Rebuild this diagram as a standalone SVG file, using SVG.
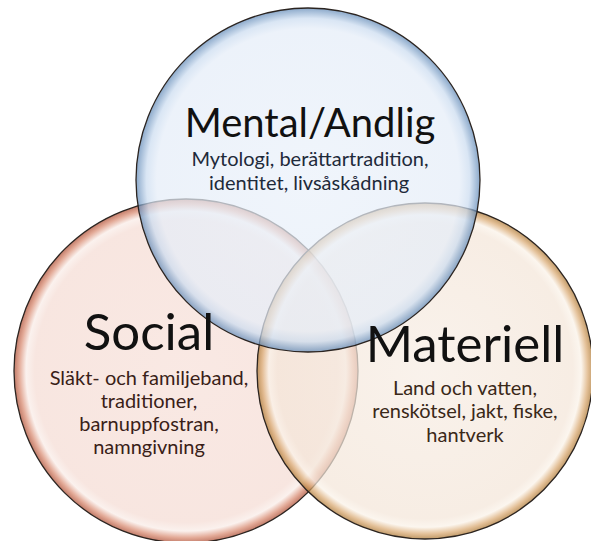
<svg xmlns="http://www.w3.org/2000/svg" width="591" height="541" viewBox="0 0 591 541">
<defs>
<radialGradient id="gBlue" cx="0.5" cy="0.5" r="0.5">
<stop offset="0" stop-color="#eaf1fa"/>
<stop offset="0.88" stop-color="#e5edf8"/>
<stop offset="0.94" stop-color="#cbdcf0"/>
<stop offset="1" stop-color="#5f88b6"/>
</radialGradient>
<radialGradient id="gRed" cx="0.5" cy="0.5" r="0.5">
<stop offset="0" stop-color="#f7e0d9"/>
<stop offset="0.88" stop-color="#f5dcd4"/>
<stop offset="0.93" stop-color="#f9ece7"/>
<stop offset="0.97" stop-color="#d8896f"/>
<stop offset="1" stop-color="#a9482e"/>
</radialGradient>
<radialGradient id="gGold" cx="0.5" cy="0.5" r="0.5">
<stop offset="0" stop-color="#f7ede4"/>
<stop offset="0.88" stop-color="#f4e6d9"/>
<stop offset="0.93" stop-color="#faf2e8"/>
<stop offset="0.97" stop-color="#d9a870"/>
<stop offset="1" stop-color="#a9742f"/>
</radialGradient>
</defs>
<style>
.c{fill-opacity:0.72;stroke:#2b2420;stroke-width:1.3}
.t{font-family:Lato,"Open Sans",sans-serif;text-anchor:middle}
.h{font-size:40px;fill:#111}
.hs{font-size:51px;fill:#111}
.s{font-size:20px}
</style>
<rect width="591" height="541" fill="#fff"/>
<g id="social">
<circle class="c" cx="186" cy="371" r="172" fill="url(#gRed)"/>
</g>
<g id="materiell">
<circle class="c" cx="425" cy="371" r="168" fill="url(#gGold)"/>
</g>
<g id="mental">
<circle class="c" cx="308" cy="180" r="172" fill="url(#gBlue)"/>
</g>
<g id="connectors"/>
<g id="labels-mental">
<text class="t h" x="310" y="137">Mental/Andlig</text>
<text class="t s" x="310" y="166" fill="#1e2a3a">Mytologi, berättartradition,</text>
<text class="t s" x="309" y="190" fill="#1e2a3a">identitet, livsåskådning</text>
</g>
<g id="labels-social">
<text class="t hs" x="149" y="350">Social</text>
<text class="t s" x="149" y="385" fill="#3a1e18">Släkt- och familjeband,</text>
<text class="t s" x="149" y="408" fill="#3a1e18">traditioner,</text>
<text class="t s" x="149" y="431" fill="#3a1e18">barnuppfostran,</text>
<text class="t s" x="149" y="454" fill="#3a1e18">namngivning</text>
</g>
<g id="labels-materiell">
<text class="t hs" x="465" y="362">Materiell</text>
<text class="t s" x="465" y="395" fill="#3a2818">Land och vatten,</text>
<text class="t s" x="465" y="418" fill="#3a2818">renskötsel, jakt, fiske,</text>
<text class="t s" x="465" y="442" fill="#3a2818">hantverk</text>
</g>
</svg>
